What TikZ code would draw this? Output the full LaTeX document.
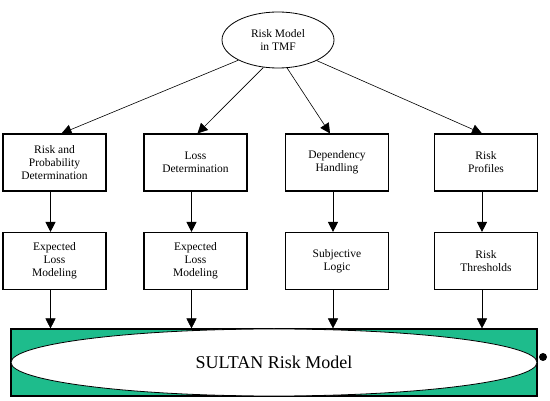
\documentclass[tikz,border=0pt]{standalone}
\usepackage{fontspec}
\setmainfont{Liberation Serif}
\usetikzlibrary{arrows.meta,shapes.geometric}
\definecolor{sultangreen}{RGB}{30,188,140}

\begin{document}
\begin{tikzpicture}[x=1pt,y=-1pt,
  every node/.style={font=\fontsize{11.5}{13}\selectfont,align=center},
  riskbox/.style={draw,line width=1.1pt,minimum width=103pt,minimum height=57pt,inner sep=1pt},
  riskarrow/.style={-{Triangle[width=10pt,length=10pt]},line width=.6pt}]
\useasboundingbox (0,0) rectangle (550,401);
\node[ellipse,draw,line width=.8pt,minimum width=112pt,minimum height=56pt,inner sep=0pt] (tmf) at (278,40) {Risk Model\\in TMF};
\node[riskbox] (rp) at (54.5,162.5) {Risk and\\Probability\\Determination};
\node[riskbox] (ld) at (195.5,162.5) {Loss\\Determination};
\node[riskbox] (dh) at (337,162.5) {Dependency\\Handling};
\node[riskbox] (pr) at (486,162.5) {Risk\\Profiles};
\node[riskbox] (el1) at (54.5,261) {Expected\\Loss\\Modeling};
\node[riskbox] (el2) at (195.5,261) {Expected\\Loss\\Modeling};
\node[riskbox] (sl) at (337,261) {Subjective\\Logic};
\node[riskbox] (rt) at (486,261) {Risk\\Thresholds};
\node[draw,line width=1.1pt,fill=sultangreen,minimum width=526pt,minimum height=67pt,inner sep=0pt] (sultanbox) at (274,362.5) {};
\node[ellipse,draw,fill=white,line width=.8pt,minimum width=526pt,minimum height=67pt,inner sep=0pt,font=\fontsize{18}{22}\selectfont] (sultan) at (274,362.5) {SULTAN Risk Model};
\fill (543,357) circle (4);
\foreach \a/\b/\s in {207/rp/7,242/ld/2,288/dh/-7,332/pr/-4}
 \draw[riskarrow] (tmf.\a) -- ([xshift=\s pt]\b.north);
\foreach \u/\l in {rp/el1,ld/el2,dh/sl,pr/rt}
 \draw[riskarrow] ([xshift=-4pt]\u.south) -- ([xshift=-4pt]\l.north);
\foreach \l in {el1,el2,sl,rt}
 \draw[riskarrow] ([xshift=-4pt]\l.south) -- ([xshift=-4pt]\l.south |- sultanbox.north);
\end{tikzpicture}
\end{document}
